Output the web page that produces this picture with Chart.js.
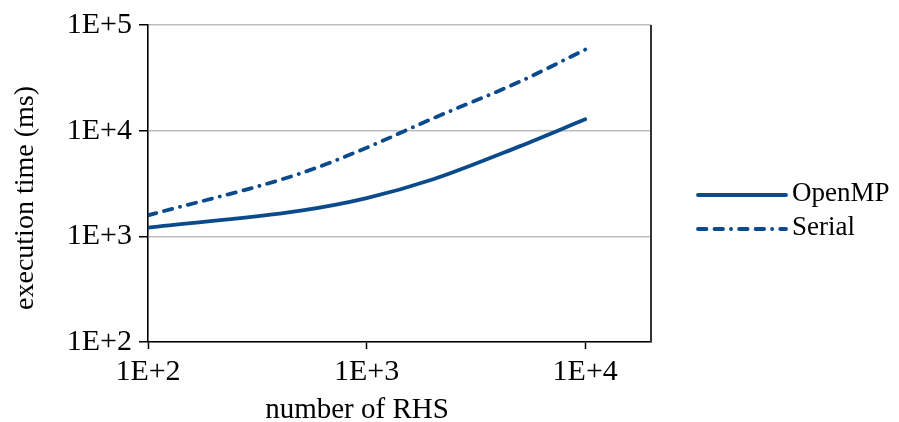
<!DOCTYPE html>
<html>
<head>
<meta charset="utf-8">
<script src="https://cdn.jsdelivr.net/npm/chart.js@4/dist/chart.umd.min.js"></script>
<style>
  html, body { margin: 0; padding: 0; background: #fff; }
  #c { display: block; }
</style>
</head>
<body>
<canvas id="c" width="899" height="422"></canvas>
<script>
// Execution time versus number of right-hand sides (log-log)
const rhs = [100, 500, 1000, 2000, 5000, 10000];
const openmpMs = [1210, 1750, 2300, 3450, 7100, 12800];
const serialMs = [1580, 3950, 6900, 13000, 29000, 58500];

const seriesNames = ['OpenMP', 'Serial'];
const xTickValues = [100, 1000, 10000];
const xTickLabels = ['1E+2', '1E+3', '1E+4'];
const yTickValues = [100, 1000, 10000, 100000];
const yTickLabels = ['1E+2', '1E+3', '1E+4', '1E+5'];
const xTitle = 'number of RHS';
const yTitle = 'execution time (ms)';

const BLUE = '#0b4b8c';
const SERIF = '"Liberation Serif", "Times New Roman", serif';
const LINE_W = 3.8;
const serialDash = [8.5, 8, 8.5, 8, 0.1, 8];

const toPoints = (ys) => rhs.map((x, i) => ({ x: x, y: ys[i] }));

// Axis titles, right frame edge and the legend, drawn on the canvas
const decorations = {
  id: 'decorations',
  afterDraw(chart) {
    const ctx = chart.ctx;
    const a = chart.chartArea;
    ctx.save();

    // right edge of the frame
    ctx.strokeStyle = '#333';
    ctx.lineWidth = 2;
    ctx.beginPath();
    ctx.moveTo(a.right, a.top);
    ctx.lineTo(a.right, a.bottom);
    ctx.stroke();

    // axis titles
    ctx.fillStyle = '#000';
    ctx.textAlign = 'center';
    ctx.textBaseline = 'alphabetic';
    ctx.font = '29px ' + SERIF;
    ctx.fillText(xTitle, 357, 418);

    ctx.save();
    ctx.font = '28px ' + SERIF;
    ctx.translate(33, 198);
    ctx.rotate(-Math.PI / 2);
    ctx.fillText(yTitle, 0, 0);
    ctx.restore();

    // legend
    const rows = [201, 235];
    chart.data.datasets.forEach((ds, i) => {
      const base = rows[i];
      const ly = base - 6;
      ctx.strokeStyle = ds.borderColor;
      ctx.lineWidth = ds.borderWidth;
      ctx.lineCap = ds.borderCapStyle || 'butt';
      ctx.setLineDash(ds.borderDash || []);
      ctx.beginPath();
      ctx.moveTo(698, ly);
      ctx.lineTo(786, ly);
      ctx.stroke();
      ctx.setLineDash([]);
      ctx.fillStyle = '#000';
      ctx.font = '27px ' + SERIF;
      ctx.textAlign = 'left';
      ctx.fillText(ds.label, 792, base);
    });

    ctx.restore();
  }
};

new Chart(document.getElementById('c'), {
  type: 'line',
  data: {
    datasets: [
      {
        label: seriesNames[0],
        data: toPoints(openmpMs),
        borderColor: BLUE,
        borderWidth: LINE_W,
        borderCapStyle: 'round',
        pointRadius: 0,
        cubicInterpolationMode: 'monotone',
        fill: false
      },
      {
        label: seriesNames[1],
        data: toPoints(serialMs),
        borderColor: BLUE,
        borderWidth: LINE_W,
        borderCapStyle: 'round',
        borderDash: serialDash,
        pointRadius: 0,
        cubicInterpolationMode: 'monotone',
        fill: false
      }
    ]
  },
  options: {
    responsive: false,
    animation: false,
    devicePixelRatio: 1,
    layout: { padding: { top: 24, right: 248, left: 0, bottom: 0 } },
    plugins: {
      legend: { display: false },
      tooltip: { enabled: false }
    },
    scales: {
      x: {
        type: 'logarithmic',
        min: 100,
        max: 20000,
        bounds: 'data',
        afterBuildTicks: (s) => { s.ticks = xTickValues.map(v => ({ value: v })); },
        afterFit: (s) => { s.height = 80; },
        grid: {
          drawOnChartArea: false,
          drawTicks: true,
          tickLength: 7,
          tickColor: '#000',
          tickWidth: 1.5
        },
        border: { color: '#000', width: 1.6 },
        ticks: {
          autoSkip: false,
          maxRotation: 0,
          padding: 5,
          color: '#000',
          font: { family: SERIF, size: 30 },
          callback: (v, i) => xTickLabels[i]
        }
      },
      y: {
        type: 'logarithmic',
        min: 100,
        max: 100000,
        bounds: 'data',
        afterBuildTicks: (s) => { s.ticks = yTickValues.map(v => ({ value: v })); },
        afterFit: (s) => { s.width = 148; },
        grid: {
          drawOnChartArea: true,
          color: '#bdbdbd',
          lineWidth: 1.5,
          drawTicks: true,
          tickLength: 9,
          tickColor: '#000',
          tickWidth: 1.5
        },
        border: { color: '#000', width: 1.6 },
        ticks: {
          autoSkip: false,
          padding: 7,
          color: '#000',
          font: { family: SERIF, size: 30 },
          callback: (v, i) => yTickLabels[i]
        }
      }
    }
  },
  plugins: [decorations]
});
</script>
</body>
</html>
